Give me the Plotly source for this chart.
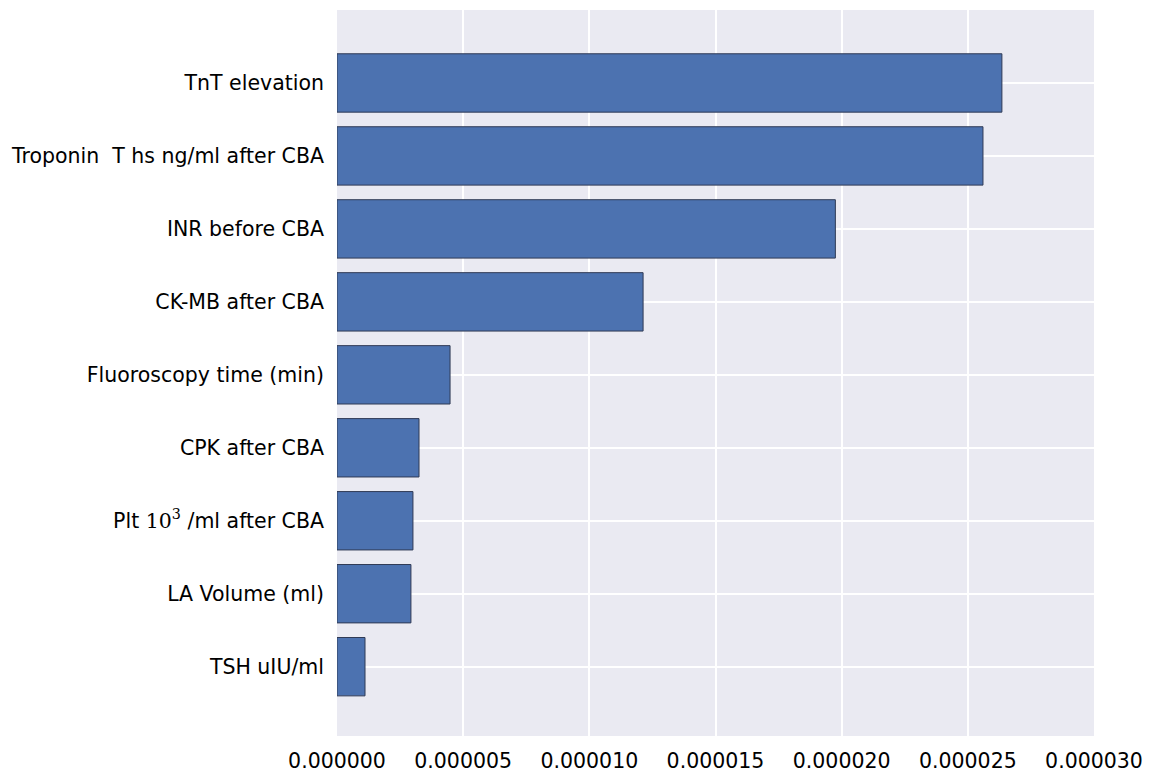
import plotly.graph_objects as go

features = [
    "TnT elevation",
    "Troponin  T hs ng/ml after CBA",
    "INR before CBA",
    "CK-MB after CBA",
    "Fluoroscopy time (min)",
    "CPK after CBA",
    "Plt <span style='font-family:DejaVu Serif'>10<sup>3</sup></span> /ml after CBA",
    "LA Volume (ml)",
    "TSH uIU/ml",
]
importance = [2.635e-5, 2.56e-5, 1.975e-5, 1.213e-5, 4.48e-6, 3.25e-6, 3.01e-6, 2.93e-6, 1.11e-6]
x_ticks = [0, 5e-6, 1e-5, 1.5e-5, 2e-5, 2.5e-5, 3e-5]
x_tick_labels = ["0.000000", "0.000005", "0.000010", "0.000015", "0.000020", "0.000025", "0.000030"]

positions = list(range(len(features)))

fig = go.Figure(
    go.Bar(
        x=importance,
        y=positions,
        orientation="h",
        width=0.8,
        marker=dict(color="#4C72B0", line=dict(color="#2f3a55", width=1)),
    )
)

fig.update_layout(
    width=1150,
    height=771,
    margin=dict(l=337, r=56, t=10, b=35),
    paper_bgcolor="white",
    plot_bgcolor="#EAEAF2",
    font=dict(family="DejaVu Sans", size=20, color="#000000"),
    showlegend=False,
    bargap=0.2,
)
fig.update_xaxes(
    range=[0, 3e-5],
    tickvals=x_ticks,
    ticktext=x_tick_labels,
    showgrid=True,
    gridcolor="white",
    gridwidth=2,
    zeroline=False,
    showline=False,
    ticks="",
    tickfont=dict(size=20.5),
    ticklabelstandoff=10,
    automargin=False,
)
fig.update_yaxes(
    range=[8.95, -1.0],
    tickvals=positions,
    ticktext=features,
    showgrid=True,
    gridcolor="white",
    gridwidth=2,
    zeroline=False,
    showline=False,
    ticks="",
    tickfont=dict(size=20.5),
    ticklabelstandoff=12,
    automargin=False,
)

fig.write_html("out.html")
